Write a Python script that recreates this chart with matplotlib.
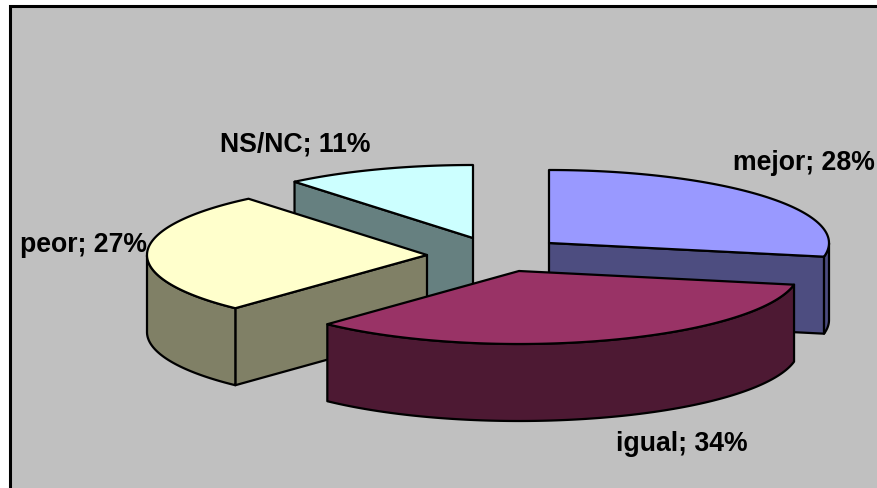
import numpy as np
import matplotlib
matplotlib.use("Agg")
import matplotlib.pyplot as plt
from matplotlib.patches import Polygon, Rectangle

categories = ["mejor", "igual", "peor", "NS/NC"]
shares = [28, 34, 27, 11]
top_colors = ["#9999ff", "#993366", "#ffffcc", "#ccffff"]
side_colors = ["#4d4d80", "#4d1933", "#808066", "#668080"]
apexes = [(549, 243), (519, 271), (427, 255), (473, 238)]
label_pos = [(804, 163), (682, 444), (83, 245), (295, 144)]
draw_order = [3, 0, 2, 1]

RX, RY, DEPTH = 280, 73, 77
W, H = 877, 488

fig = plt.figure(figsize=(W / 100, H / 100), dpi=100, facecolor="white")
ax = fig.add_axes([0, 0, 1, 1])
ax.set_xlim(0, W)
ax.set_ylim(H, 0)
ax.axis("off")
ax.add_patch(Rectangle((9.5, 6), W, H, fc="#c0c0c0", ec="black", lw=2.2, zorder=0))

edges = np.cumsum([0] + shares) / sum(shares) * 2 * np.pi


def rim(c, a):
    return np.column_stack((c[0] + RX * np.sin(a), c[1] - RY * np.cos(a)))


z = 1
for i in draw_order:
    c = np.array(apexes[i], dtype=float)
    a0, a1 = edges[i], edges[i + 1]
    angles = np.linspace(a0, a1, 200)
    arc = rim(c, angles)
    down = np.array([0, DEPTH])
    kw = dict(fc=side_colors[i], ec="black", lw=1.6, joinstyle="round")
    # radial cut faces turned towards the viewer
    for a, visible in ((a0, np.sin(a0) < -1e-6), (a1, np.sin(a1) > 1e-6)):
        if visible:
            p = rim(c, np.array([a]))[0]
            ax.add_patch(Polygon([c, p, p + down, c + down], zorder=z, **kw))
            z += 1
    # outer wall on the front half of the ellipse
    wall = np.cos(angles) < 0
    if wall.any():
        seg = arc[wall]
        ax.add_patch(Polygon(np.vstack((seg, (seg + down)[::-1])), zorder=z, **kw))
        z += 1
    ax.add_patch(Polygon(np.vstack(([c], arc)), zorder=z, fc=top_colors[i], ec="black",
                         lw=1.6, joinstyle="round"))
    z += 1

for name, share, pos in zip(categories, shares, label_pos):
    ax.text(pos[0], pos[1], f"{name}; {share}%", ha="center", va="center", zorder=z,
            family="Liberation Sans", fontweight="bold", fontsize=19.2, color="black")

fig.savefig("out.png", dpi=100)
